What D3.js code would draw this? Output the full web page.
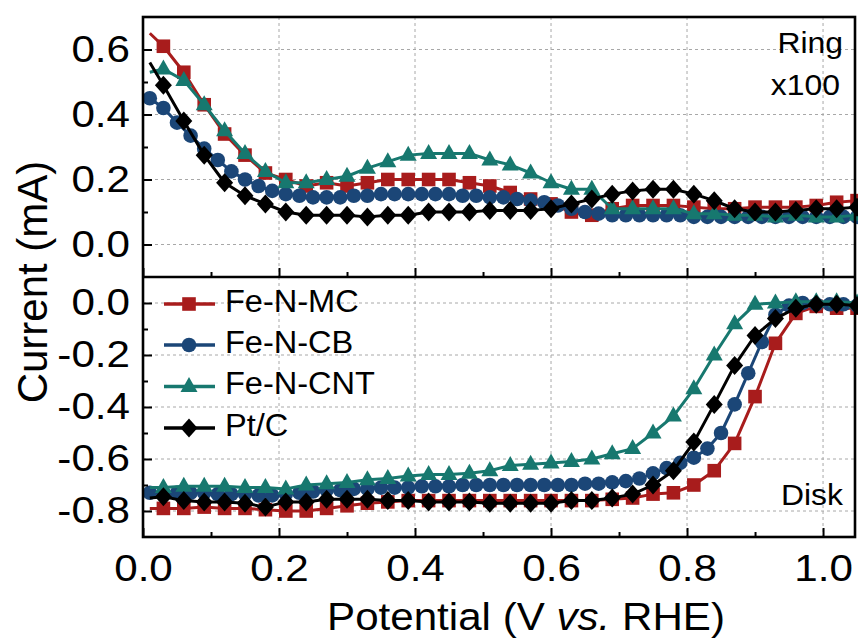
<!DOCTYPE html>
<html><head><meta charset="utf-8">
<script src="https://cdn.jsdelivr.net/npm/d3@7"></script>
<style>
body{margin:0;background:#fff}
svg{display:block;background:#fff}
text{font-family:"Liberation Sans",Arial,Helvetica,sans-serif;fill:#000}
.ytick text{transform-box:fill-box;transform-origin:right center;transform:scaleX(1.14)}
.xtick text{transform-box:fill-box;transform-origin:center;transform:scaleX(1.14)}
.stretchR{transform-box:fill-box;transform-origin:right center;transform:scaleX(1.1)}
.stretchC{transform-box:fill-box;transform-origin:center;transform:scaleX(1.08)}
.stretchL{transform-box:fill-box;transform-origin:left center;transform:scaleX(1.05)}
</style></head><body>
<svg id="c" width="858" height="638"></svg>
<script>
// ---------- data ----------
const seriesNames = ["Fe-N-MC", "Fe-N-CB", "Fe-N-CNT", "Pt/C"];
const seriesColors = ["#A81C1C", "#1B4677", "#17786F", "#000000"];
const seriesSymbols = ["square", "circle", "triangle", "diamond"];

// potentials for the 0.03 V marker spacing (first point 0.01 is line start only)
const potentialA = [0.01,0.03,0.06,0.09,0.12,0.15,0.18,0.21,0.24,0.27,0.30,0.33,0.36,0.39,0.42,0.45,0.48,0.51,0.54,0.57,0.60,0.63,0.66,0.69,0.72,0.75,0.78,0.81,0.84,0.87,0.90,0.93,0.96,0.99,1.02,1.05];
// potentials for the 0.02 V marker spacing (Fe-N-CB)
const potentialB = [0.01,0.03,0.05,0.07,0.09,0.11,0.13,0.15,0.17,0.19,0.21,0.23,0.25,0.27,0.29,0.31,0.33,0.35,0.37,0.39,0.41,0.43,0.45,0.47,0.49,0.51,0.53,0.55,0.57,0.59,0.61,0.63,0.65,0.67,0.69,0.71,0.73,0.75,0.77,0.79,0.81,0.83,0.85,0.87,0.89,0.91,0.93,0.95,0.97,0.99,1.01,1.03,1.05];

// Ring current (x100, mA)
const ringMC  = [0.65,0.61,0.53,0.43,0.34,0.275,0.22,0.20,0.18,0.19,0.18,0.19,0.20,0.20,0.20,0.20,0.19,0.18,0.16,0.14,0.125,0.10,0.09,0.11,0.12,0.12,0.12,0.115,0.11,0.11,0.115,0.115,0.115,0.12,0.13,0.135];
const ringCB  = [0.45,0.42,0.375,0.335,0.295,0.26,0.225,0.20,0.18,0.165,0.155,0.15,0.145,0.145,0.145,0.15,0.15,0.155,0.155,0.155,0.155,0.155,0.155,0.15,0.15,0.145,0.145,0.14,0.135,0.13,0.12,0.11,0.10,0.095,0.09,0.09,0.09,0.09,0.09,0.09,0.085,0.085,0.085,0.085,0.085,0.085,0.085,0.085,0.085,0.085,0.085,0.085,0.085];
const ringCNT = [0.53,0.54,0.505,0.43,0.35,0.28,0.225,0.19,0.19,0.20,0.21,0.235,0.255,0.275,0.28,0.28,0.28,0.26,0.245,0.22,0.19,0.17,0.17,0.11,0.11,0.11,0.11,0.095,0.095,0.09,0.09,0.085,0.09,0.085,0.085,0.09];
const ringPt  = [0.56,0.49,0.38,0.275,0.19,0.15,0.125,0.10,0.09,0.09,0.09,0.085,0.09,0.09,0.10,0.10,0.10,0.105,0.105,0.105,0.11,0.125,0.14,0.155,0.165,0.17,0.17,0.155,0.135,0.11,0.10,0.10,0.105,0.11,0.11,0.115];

// Disk current (mA)
const diskMC  = [-0.79,-0.79,-0.79,-0.785,-0.79,-0.79,-0.795,-0.80,-0.80,-0.79,-0.78,-0.77,-0.765,-0.76,-0.76,-0.76,-0.76,-0.76,-0.76,-0.76,-0.76,-0.76,-0.76,-0.755,-0.75,-0.735,-0.73,-0.70,-0.645,-0.54,-0.36,-0.155,-0.04,-0.013,-0.02,-0.02];
const diskCB  = [-0.73,-0.73,-0.73,-0.73,-0.73,-0.735,-0.735,-0.735,-0.74,-0.74,-0.735,-0.73,-0.725,-0.72,-0.72,-0.715,-0.715,-0.71,-0.71,-0.71,-0.705,-0.705,-0.705,-0.70,-0.70,-0.70,-0.70,-0.70,-0.70,-0.70,-0.70,-0.70,-0.695,-0.695,-0.69,-0.685,-0.675,-0.655,-0.635,-0.615,-0.595,-0.56,-0.50,-0.39,-0.27,-0.15,-0.045,-0.01,0.0,-0.005,-0.005,-0.005,-0.01];
const diskCNT = [-0.71,-0.71,-0.705,-0.705,-0.705,-0.71,-0.71,-0.715,-0.70,-0.695,-0.69,-0.68,-0.675,-0.665,-0.66,-0.66,-0.655,-0.645,-0.625,-0.62,-0.615,-0.61,-0.60,-0.58,-0.56,-0.50,-0.435,-0.33,-0.20,-0.08,-0.005,0.0,0.005,0.005,0.005,0.0];
const diskPt  = [-0.75,-0.745,-0.76,-0.765,-0.765,-0.77,-0.785,-0.765,-0.765,-0.755,-0.755,-0.755,-0.76,-0.76,-0.765,-0.765,-0.765,-0.77,-0.77,-0.77,-0.77,-0.76,-0.76,-0.75,-0.735,-0.70,-0.645,-0.535,-0.39,-0.24,-0.125,-0.06,-0.02,-0.005,-0.005,-0.01];

const xTicks = [0.0,0.2,0.4,0.6,0.8,1.0];
const xMinorTicks = [0.1,0.3,0.5,0.7,0.9];
const ringTicks = [0.0,0.2,0.4,0.6];
const ringMinorTicks = [0.1,0.3,0.5];
const diskTicks = [0.0,-0.2,-0.4,-0.6,-0.8];
const diskMinorTicks = [-0.1,-0.3,-0.5,-0.7];

// ---------- layout ----------
const L = 143, R = 855, T = 17, MID = 277, B = 537;
const svg = d3.select("#c");
const x = d3.scaleLinear().domain([0, 1.047]).range([L, R]);
const yTop = d3.scaleLinear().domain([-0.1, 0.7]).range([MID, T]);
const yBot = d3.scaleLinear().domain([-0.9, 0.1]).range([B, MID]);
const fmt = v => (Math.abs(v) < 1e-9 ? 0 : v).toFixed(1);

// grids
function grid(yScale, yVals, top, bottom) {
  const g = svg.append("g").attr("stroke", "#a8a8a8").attr("stroke-width", 1).attr("stroke-dasharray", "3,3");
  g.selectAll(".h").data(yVals).join("line")
    .attr("x1", L).attr("x2", R).attr("y1", d => yScale(d)).attr("y2", d => yScale(d));
  g.selectAll(".v").data(xTicks.filter(d => d > 0)).join("line")
    .attr("x1", d => x(d)).attr("x2", d => x(d)).attr("y1", top).attr("y2", bottom);
}
grid(yTop, ringTicks, T, MID);
grid(yBot, diskTicks, MID, B);

// symbols
const symPath = {
  square: "M-6.8,-6.8H6.8V6.8H-6.8Z",
  circle: "M7.3,0A7.3,7.3 0 1,1 -7.3,0A7.3,7.3 0 1,1 7.3,0Z",
  triangle: "M0,-9.5L8.5,5.5L-8.5,5.5Z",
  diamond: "M0,-9.5L8.5,0L0,9.5L-8.5,0Z"
};

function drawSeries(yScale, xs, ys, color, sym, markerFrom) {
  const pts = xs.map((v, i) => [v, ys[i]]);
  svg.append("path").datum(pts)
    .attr("fill", "none").attr("stroke", color).attr("stroke-width", 3).attr("stroke-linejoin", "round")
    .attr("d", d3.line().x(d => x(d[0])).y(d => yScale(d[1])));
  svg.append("g").selectAll("path").data(pts.slice(markerFrom)).join("path")
    .attr("d", symPath[sym]).attr("fill", color)
    .attr("transform", d => `translate(${x(d[0])},${yScale(d[1])})`);
}

const ringData = [[potentialA, ringMC, 1], [potentialB, ringCB, 0], [potentialA, ringCNT, 1], [potentialA, ringPt, 1]];
const diskData = [[potentialA, diskMC, 1], [potentialB, diskCB, 0], [potentialA, diskCNT, 1], [potentialA, diskPt, 1]];
ringData.forEach((s, i) => drawSeries(yTop, s[0], s[1], seriesColors[i], seriesSymbols[i], s[2]));
diskData.forEach((s, i) => drawSeries(yBot, s[0], s[1], seriesColors[i], seriesSymbols[i], s[2]));

// axes
function styleAxis(g) {
  g.select(".domain").remove();
  g.selectAll("line").attr("stroke", "#000").attr("stroke-width", 2);
  g.attr("font-family", null).attr("font-size", null);
}
svg.append("g").attr("class", "ytick").attr("transform", `translate(${L},0)`)
  .call(d3.axisLeft(yTop).tickValues(ringTicks).tickSize(-9).tickPadding(13).tickFormat(fmt))
  .call(styleAxis).selectAll("text").attr("font-size", 37);
svg.append("g").attr("transform", `translate(${L},0)`)
  .call(d3.axisLeft(yTop).tickValues(ringMinorTicks).tickSize(-5).tickFormat(""))
  .call(styleAxis);
svg.append("g").attr("class", "ytick").attr("transform", `translate(${L},0)`)
  .call(d3.axisLeft(yBot).tickValues(diskTicks).tickSize(-9).tickPadding(13).tickFormat(fmt))
  .call(styleAxis).selectAll("text").attr("font-size", 37);
svg.append("g").attr("transform", `translate(${L},0)`)
  .call(d3.axisLeft(yBot).tickValues(diskMinorTicks).tickSize(-5).tickFormat(""))
  .call(styleAxis);
svg.append("g").attr("transform", `translate(0,${MID})`)
  .call(d3.axisBottom(x).tickValues(xTicks).tickSize(-9).tickFormat(""))
  .call(styleAxis);
svg.append("g").attr("transform", `translate(0,${MID})`)
  .call(d3.axisBottom(x).tickValues(xMinorTicks).tickSize(-5).tickFormat(""))
  .call(styleAxis);
svg.append("g").attr("class", "xtick").attr("transform", `translate(0,${B})`)
  .call(d3.axisBottom(x).tickValues(xTicks).tickSize(-9).tickPadding(18).tickFormat(fmt))
  .call(styleAxis).selectAll("text").attr("font-size", 37);
svg.append("g").attr("transform", `translate(0,${B})`)
  .call(d3.axisBottom(x).tickValues(xMinorTicks).tickSize(-5).tickFormat(""))
  .call(styleAxis);

// frame
svg.append("rect").attr("x", L).attr("y", T).attr("width", R - L).attr("height", B - T)
  .attr("fill", "none").attr("stroke", "#000").attr("stroke-width", 2.6);
svg.append("line").attr("x1", L).attr("x2", R).attr("y1", MID).attr("y2", MID)
  .attr("stroke", "#000").attr("stroke-width", 2.6);

// panel labels
svg.append("text").attr("class", "stretchR").attr("x", 843).attr("y", 53).attr("text-anchor", "end").attr("font-size", 29).text("Ring");
svg.append("text").attr("class", "stretchR").attr("x", 840).attr("y", 95).attr("text-anchor", "end").attr("font-size", 29).text("x100");
svg.append("text").attr("class", "stretchR").attr("x", 843).attr("y", 505).attr("text-anchor", "end").attr("font-size", 29).text("Disk");

// axis titles
svg.append("text").attr("transform", "translate(47,282) rotate(-90)").attr("text-anchor", "middle")
  .attr("font-size", 42).text("Current (mA)");
const xt = svg.append("text").attr("class", "stretchC").attr("x", 526).attr("y", 630).attr("text-anchor", "middle").attr("font-size", 39);
xt.append("tspan").text("Potential (V ");
xt.append("tspan").attr("font-style", "italic").text("vs.");
xt.append("tspan").text(" RHE)");

// legend
const legendRows = [304, 345, 386.5, 428];
seriesNames.forEach((name, i) => {
  const g = svg.append("g");
  g.append("line").attr("x1", 164).attr("x2", 215).attr("y1", legendRows[i]).attr("y2", legendRows[i])
    .attr("stroke", seriesColors[i]).attr("stroke-width", 3.4);
  g.append("path").attr("d", symPath[seriesSymbols[i]]).attr("fill", seriesColors[i])
    .attr("transform", `translate(189,${legendRows[i]})`);
  g.append("text").attr("class", "stretchL").attr("x", 225).attr("y", legendRows[i] + 8).attr("font-size", 31).text(name);
});
</script>
</body></html>
